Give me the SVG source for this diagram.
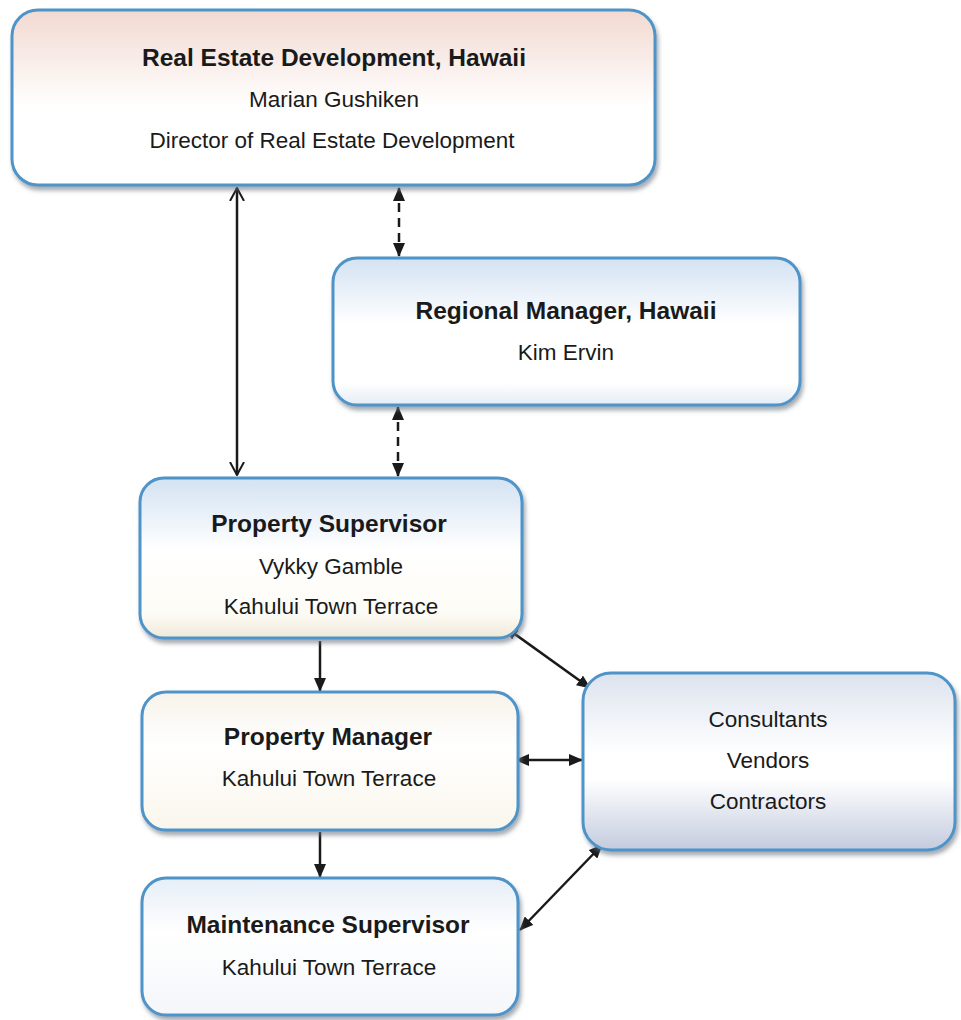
<svg xmlns="http://www.w3.org/2000/svg" width="961" height="1020" viewBox="0 0 961 1020">
<defs>
<style>
.box{stroke:#4f94c9;stroke-width:3;filter:url(#sh)}
.t{font-family:"Liberation Sans",Arial,sans-serif;font-size:22.5px;fill:#1a1a1a;text-anchor:middle}
.b{font-weight:bold;font-size:24.5px}
.c{stroke:#1a1a1a;stroke-width:2.5;fill:none}
.d{stroke-dasharray:9 6}
</style>
<filter id="sh" x="-5%" y="-5%" width="112%" height="120%">
<feDropShadow dx="2" dy="4" stdDeviation="2" flood-color="#6b7480" flood-opacity="0.6"/>
</filter>
<linearGradient id="gTop" x1="0" y1="0" x2="0" y2="1">
<stop offset="0" stop-color="#f2d9d0"/><stop offset="0.55" stop-color="#ffffff"/><stop offset="1" stop-color="#ffffff"/>
</linearGradient>
<linearGradient id="gBlue" x1="0" y1="0" x2="0" y2="1">
<stop offset="0" stop-color="#d3e2f2"/><stop offset="0.45" stop-color="#ffffff"/><stop offset="0.85" stop-color="#ffffff"/><stop offset="1" stop-color="#e4ecf5"/>
</linearGradient>
<linearGradient id="gPS" x1="0" y1="0" x2="0" y2="1">
<stop offset="0" stop-color="#d3e2f2"/><stop offset="0.45" stop-color="#ffffff"/><stop offset="0.85" stop-color="#fdfbf5"/><stop offset="1" stop-color="#efe9d8"/>
</linearGradient>
<linearGradient id="gPM" x1="0" y1="0" x2="0" y2="1">
<stop offset="0" stop-color="#f7f3ea"/><stop offset="0.4" stop-color="#ffffff"/><stop offset="1" stop-color="#faf6ec"/>
</linearGradient>
<linearGradient id="gMS" x1="0" y1="0" x2="0" y2="1">
<stop offset="0" stop-color="#e6eef7"/><stop offset="0.4" stop-color="#ffffff"/><stop offset="1" stop-color="#f4f6fa"/>
</linearGradient>
<linearGradient id="gC" x1="0" y1="0" x2="0" y2="1">
<stop offset="0" stop-color="#dce3ee"/><stop offset="0.45" stop-color="#ffffff"/><stop offset="0.6" stop-color="#ffffff"/><stop offset="1" stop-color="#c3cbde"/>
</linearGradient>
<marker id="af" viewBox="0 0 14 12" refX="13" refY="6" markerWidth="14" markerHeight="12" markerUnits="userSpaceOnUse" orient="auto-start-reverse">
<path d="M0,0 L14,6 L0,12 Z" fill="#1a1a1a"/>
</marker>
<marker id="ao" viewBox="0 0 14 16" refX="13" refY="8" markerWidth="14" markerHeight="16" markerUnits="userSpaceOnUse" orient="auto-start-reverse">
<path d="M0,1 L13,8 L0,15" fill="none" stroke="#1a1a1a" stroke-width="2"/>
</marker>
</defs>
<rect width="961" height="1020" fill="#ffffff"/>

<g id="connectors">
<line class="c" x1="237" y1="188" x2="237" y2="475" marker-start="url(#ao)" marker-end="url(#ao)"/>
<line class="c d" x1="399" y1="188" x2="399" y2="256" marker-start="url(#af)" marker-end="url(#af)"/>
<line class="c d" x1="398" y1="407" x2="398" y2="476" marker-start="url(#af)" marker-end="url(#af)"/>
<line class="c" x1="320" y1="641" x2="320" y2="691" marker-end="url(#af)"/>
<line class="c" x1="320" y1="832" x2="320" y2="877" marker-end="url(#af)"/>
<line class="c" x1="505" y1="627" x2="590" y2="688" marker-start="url(#af)" marker-end="url(#af)"/>
<line class="c" x1="516" y1="760" x2="582" y2="760" marker-start="url(#af)" marker-end="url(#af)"/>
<line class="c" x1="520" y1="930" x2="602" y2="845" marker-start="url(#af)" marker-end="url(#af)"/>
</g>

<g id="node-red">
<rect class="box" x="12" y="10" width="643" height="175" rx="26" fill="url(#gTop)"/>
<text class="t b" x="334" y="66">Real Estate Development, Hawaii</text>
<text class="t" x="334" y="107">Marian Gushiken</text>
<text class="t" x="332" y="148">Director of Real Estate Development</text>
</g>

<g id="node-regional">
<rect class="box" x="333" y="258" width="467" height="147" rx="24" fill="url(#gBlue)"/>
<text class="t b" x="566" y="319">Regional Manager, Hawaii</text>
<text class="t" x="566" y="360">Kim Ervin</text>
</g>

<g id="node-ps">
<rect class="box" x="140" y="478" width="382" height="160" rx="24" fill="url(#gPS)"/>
<text class="t b" x="329" y="532">Property Supervisor</text>
<text class="t" x="331" y="574">Vykky Gamble</text>
<text class="t" x="331" y="614">Kahului Town Terrace</text>
</g>

<g id="node-pm">
<rect class="box" x="142" y="692" width="376" height="138" rx="24" fill="url(#gPM)"/>
<text class="t b" x="328" y="745">Property Manager</text>
<text class="t" x="329" y="786">Kahului Town Terrace</text>
</g>

<g id="node-ms">
<rect class="box" x="142" y="878" width="376" height="137" rx="24" fill="url(#gMS)"/>
<text class="t b" x="328" y="933">Maintenance Supervisor</text>
<text class="t" x="329" y="975">Kahului Town Terrace</text>
</g>

<g id="node-consultants">
<rect class="box" x="583" y="673" width="372" height="177" rx="28" fill="url(#gC)"/>
<text class="t" x="768" y="727">Consultants</text>
<text class="t" x="768" y="768">Vendors</text>
<text class="t" x="768" y="809">Contractors</text>
</g>
</svg>
